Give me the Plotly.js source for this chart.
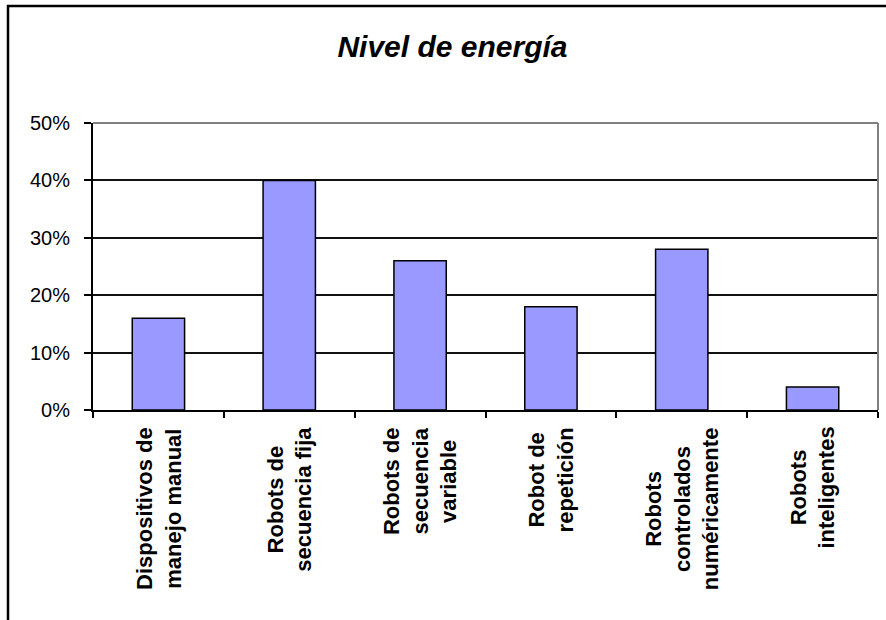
<!DOCTYPE html>
<html>
<head>
<meta charset="utf-8">
<script src="https://cdn.plot.ly/plotly-3.0.1.min.js"></script>
<style>html,body{margin:0;padding:0;background:#fff;}#chart{width:886px;height:620px;}</style>
</head>
<body>
<div id="chart"></div>
<script>
var categories = ["Dispositivos de manejo manual","Robots de secuencia fija","Robots de secuencia variable","Robot de repetición","Robots controlados numéricamente","Robots inteligentes"];
var labelLines = [["Dispositivos de","manejo manual"],["Robots de","secuencia fija"],["Robots de","secuencia","variable"],["Robot de","repetición"],["Robots","controlados","numéricamente"],["Robots","inteligentes"]];
var values = [0.16, 0.40, 0.26, 0.18, 0.28, 0.04];
var titleText = "Nivel de energía";

var W = 886, H = 620;
var mL = 93, mR = 8, mT = 123, mB = 210;
var pw = W - mL - mR, ph = H - mT - mB;

var annotations = categories.map(function(c, i){
  return {
    x: c, y: 0, xref: 'x', yref: 'y',
    text: '<b>' + labelLines[i].join('<br>') + '</b>',
    textangle: -90, align: 'center',
    xanchor: 'center', yanchor: 'top',
    yshift: -15, showarrow: false,
    font: {family: 'Liberation Sans, Arial, sans-serif', size: 22, color: '#000'}
  };
});

var shapes = [
  {type:'line', xref:'paper', yref:'paper', x0:0, x1:1, y0:1, y1:1, line:{color:'#808080', width:2}, layer:'above'},
  {type:'line', xref:'paper', yref:'paper', x0:1, x1:1, y0:0, y1:1, line:{color:'#808080', width:2}, layer:'above'},
  {type:'rect', xref:'paper', yref:'paper',
   x0:(8 - mL)/pw, x1:(1000 - mL)/pw, y0:-(800 - mT - ph)/ph, y1:(mT + ph - 6)/ph,
   line:{color:'#000', width:2.5}, fillcolor:'rgba(0,0,0,0)', layer:'above'}
];

var data = [{
  type: 'bar', x: categories, y: values,
  marker: {color: '#9999FF', line: {color: '#000', width: 1.5}},
  hoverinfo: 'skip'
}];

var layout = {
  width: W, height: H,
  margin: {l: mL, r: mR, t: mT, b: mB, pad: 0},
  paper_bgcolor: '#fff', plot_bgcolor: '#fff',
  showlegend: false, bargap: 0.6,
  font: {family: 'Liberation Sans, Arial, sans-serif', color: '#000'},
  title: {text: '<b><i>' + titleText + '</i></b>', xref: 'container', yref: 'container',
          x: 452.5 / W, xanchor: 'center', y: 1 - 46 / H, yanchor: 'middle',
          font: {family: 'Liberation Sans, Arial, sans-serif', size: 30, color: '#000'}},
  xaxis: {type: 'category', showticklabels: false, showgrid: false, zeroline: false,
          showline: true, linecolor: '#000', linewidth: 2,
          ticks: 'outside', tickson: 'boundaries', ticklen: 6, tickcolor: '#000', tickwidth: 2},
  yaxis: {range: [0, 0.5], dtick: 0.1, tickformat: '.0%', showgrid: true, gridcolor: '#111', gridwidth: 2,
          zeroline: false, showline: true, linecolor: '#000', linewidth: 2,
          ticks: 'outside', ticklen: 7, tickcolor: '#000', tickwidth: 2, ticklabelstandoff: 10,
          tickfont: {family: 'Liberation Sans, Arial, sans-serif', size: 20, color: '#000'}},
  annotations: annotations,
  shapes: shapes
};

Plotly.newPlot('chart', data, layout, {displayModeBar: false, staticPlot: true});
</script>
</body>
</html>
